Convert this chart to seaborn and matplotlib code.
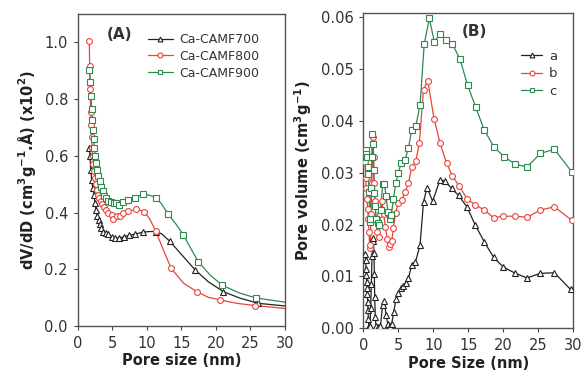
import numpy as np
import pandas as pd
import seaborn as sns
from matplotlib import pyplot as plt
from matplotlib.lines import Line2D

# ---- Panel A: dV/dD vs pore size (markers) ----
a700_x = [1.69, 1.78, 1.88, 2.03, 2.17, 2.36, 2.51, 2.65, 2.85, 3.04, 3.23, 3.43, 3.71, 4.1,
          4.44, 4.92, 5.4, 6.03, 6.7, 7.48, 8.3, 9.5, 11.3, 13.36, 16.98, 21.07, 26.1]
a700_y = [0.627, 0.598, 0.551, 0.515, 0.486, 0.462, 0.433, 0.41, 0.388, 0.374, 0.36, 0.345, 0.333, 0.327,
          0.324, 0.313, 0.311, 0.309, 0.315, 0.32, 0.324, 0.331, 0.333, 0.298, 0.198, 0.121, 0.08]
a800_x = [1.68, 1.73, 1.8, 1.87, 1.93, 2.0, 2.08, 2.17, 2.27, 2.38, 2.5, 2.63, 2.78, 2.95, 3.15, 3.35,
          3.55, 3.8, 4.1, 4.44, 4.92, 5.16, 5.64, 6.1, 6.6, 7.3, 8.5, 9.6, 11.29, 13.5, 17.3, 20.6, 25.66]
a800_y = [1.006, 0.915, 0.835, 0.755, 0.709, 0.668, 0.627, 0.6, 0.57, 0.545, 0.52, 0.5, 0.48, 0.462, 0.452, 0.44,
          0.43, 0.42, 0.41, 0.4, 0.392, 0.378, 0.388, 0.388, 0.398, 0.404, 0.412, 0.403, 0.335, 0.204, 0.12, 0.092, 0.072]
a900_x = [1.68, 1.83, 1.93, 2.02, 2.12, 2.2, 2.3, 2.42, 2.55, 2.7, 2.85, 3.0, 3.2, 3.4, 3.6, 3.85,
          4.1, 4.4, 4.8, 5.2, 5.6, 6.0, 6.5, 7.3, 8.3, 9.5, 11.29, 13.1, 15.3, 17.45, 20.84, 25.76]
a900_y = [0.904, 0.859, 0.812, 0.765, 0.727, 0.692, 0.659, 0.627, 0.6, 0.574, 0.55, 0.53, 0.51, 0.49, 0.475, 0.46,
          0.45, 0.442, 0.436, 0.434, 0.435, 0.428, 0.437, 0.443, 0.453, 0.465, 0.453, 0.394, 0.321, 0.227, 0.145, 0.099]
# extra readings of the curves between / after the markers
c700_x = [10.4, 12.15, 15.2, 18.9, 23.5, 30.0]
c700_y = [0.333, 0.325, 0.247, 0.156, 0.098, 0.0706]
c800_x = [10.36, 12.4, 15.3, 18.9, 23.0, 30.0]
c800_y = [0.38, 0.268, 0.151, 0.101, 0.08, 0.062]
c900_x = [10.4, 12.15, 14.2, 16.35, 19.15, 23.2, 30.0]
c900_y = [0.461, 0.43, 0.36, 0.274, 0.18, 0.118, 0.084]

# ---- Panel B: pore volume vs pore size ----
b_a_x = [0.29, 0.33, 0.38, 0.43, 0.48, 0.52, 0.57, 0.62, 0.67, 0.71, 0.81, 0.95, 1.05, 1.14, 1.24, 1.33,
         1.43, 1.52, 1.57, 1.62, 1.71, 1.8, 2.1, 2.45, 2.75, 3.0, 3.25, 3.5, 3.8, 4.05, 4.35, 4.65,
         5.0, 5.35, 5.7, 6.05, 6.45, 6.9, 7.45, 8.1, 8.6, 9.1, 9.9, 10.95, 11.6, 12.6, 13.6, 14.8,
         15.95, 17.3, 18.6, 20.0, 21.7, 23.4, 25.3, 27.3, 29.6]
b_a_y = [0.0144, 0.0131, 0.0115, 0.0103, 0.009, 0.0078, 0.0066, 0.005, 0.0035, 0.0018, 0.0004, 0.0005, 0.004,
         0.0085, 0.014, 0.0168, 0.0174, 0.0145, 0.0105, 0.006, 0.0022, 0.0005, 0.0002, 0.0005, 0.0045, 0.0052,
         0.0025, 0.0008, 0.0004, 0.0009, 0.0032, 0.0056, 0.0068, 0.0078, 0.0082, 0.0088, 0.0096, 0.0122, 0.0128,
         0.016, 0.0244, 0.0271, 0.0245, 0.0286, 0.0284, 0.027, 0.0256, 0.0234, 0.02, 0.0166, 0.0137, 0.0118,
         0.0106, 0.0097, 0.0106, 0.0107, 0.0075]
b_b_x = [0.24, 0.33, 0.43, 0.52, 0.62, 0.71, 0.81, 0.9, 1.0, 1.1, 1.2, 1.3, 1.38, 1.48, 1.57, 1.67, 1.8,
         2.0, 2.2, 2.4, 2.65, 2.9, 3.15, 3.4, 3.6, 3.8, 4.05, 4.3, 4.6, 5.0, 5.5, 5.95, 6.45, 6.9, 7.5,
         8.0, 8.6, 9.2, 10.1, 10.95, 11.9, 12.7, 13.7, 14.8, 15.95, 17.3, 18.6, 20.0, 21.7, 23.4, 25.3,
         27.3, 29.8]
b_b_y = [0.032, 0.029, 0.027, 0.025, 0.023, 0.021, 0.0185, 0.0155, 0.016, 0.022, 0.028, 0.033, 0.0368,
         0.033, 0.028, 0.0245, 0.021, 0.0185, 0.0175, 0.022, 0.0245, 0.022, 0.0195, 0.0173, 0.0157, 0.0163,
         0.0168, 0.0193, 0.0222, 0.0242, 0.0248, 0.0262, 0.028, 0.031, 0.0322, 0.0357, 0.046, 0.0477,
         0.0404, 0.0357, 0.0318, 0.0294, 0.0274, 0.025, 0.0238, 0.0228, 0.0213, 0.0216, 0.0216, 0.0214,
         0.0228, 0.0234, 0.0208]
b_c_x = [0.24, 0.33, 0.43, 0.52, 0.62, 0.71, 0.81, 0.9, 1.0, 1.1, 1.2, 1.3, 1.38, 1.48, 1.57, 1.7, 1.85,
         2.05, 2.3, 2.5, 2.75, 3.0, 3.25, 3.5, 3.75, 4.0, 4.3, 4.65, 5.0, 5.4, 5.95, 6.45, 6.9, 7.5, 8.1,
         8.7, 9.43, 10.14, 10.96, 11.8, 12.7, 13.8, 14.9, 16.06, 17.24, 18.67, 20.1, 21.7, 23.4, 25.3,
         27.3, 29.8]
b_c_y = [0.0342, 0.0343, 0.0335, 0.033, 0.031, 0.0298, 0.0262, 0.0205, 0.021, 0.027, 0.033, 0.0375, 0.0355,
         0.0305, 0.026, 0.0235, 0.021, 0.0202, 0.02, 0.0228, 0.0278, 0.0279, 0.0255, 0.0225, 0.021, 0.0218,
         0.025, 0.028, 0.03, 0.0318, 0.0325, 0.0347, 0.0382, 0.039, 0.043, 0.0548, 0.0597, 0.0552, 0.0568,
         0.0556, 0.0548, 0.0519, 0.0468, 0.0426, 0.0383, 0.0349, 0.0331, 0.0316, 0.0311, 0.0337, 0.0345,
         0.0301]

labels_a = ['Ca-CAMF700', 'Ca-CAMF800', 'Ca-CAMF900']
labels_b = ['a', 'b', 'c']
colors = ['#222222', '#e8453c', '#2e8b4f']
markers = ['^', 'o', 's']

sns.set_style('ticks')
plt.rcParams['font.family'] = ['DejaVu Sans']
plt.rcParams['mathtext.default'] = 'bf'
plt.rcParams['text.color'] = '#333333'
plt.rcParams['axes.labelcolor'] = '#222222'
plt.rcParams['xtick.color'] = '#444444'
plt.rcParams['ytick.color'] = '#444444'
plt.rcParams['xtick.labelcolor'] = '#333333'
plt.rcParams['ytick.labelcolor'] = '#333333'

fig = plt.figure(figsize=(5.82, 3.75), dpi=100)
axA = fig.add_axes([0.1335, 0.1307, 0.3562, 0.832])
axB = fig.add_axes([0.6243, 0.1245, 0.3608, 0.8415])

ms = 4.2
series_a = [(a700_x, a700_y, c700_x, c700_y), (a800_x, a800_y, c800_x, c800_y),
            (a900_x, a900_y, c900_x, c900_y)]
for (mx, my, cx, cy), col, mk in zip(series_a, colors, markers):
    df = pd.DataFrame({'x': mx + cx, 'y': my + cy}).sort_values('x')
    sns.lineplot(data=df, x='x', y='y', ax=axA, color=col, lw=0.9, estimator=None,
                 sort=True, legend=False)
    axA.plot(mx, my, ls='none', marker=mk, ms=ms, mfc='white', mec=col, mew=0.8, zorder=3)

series_b = [(b_a_x, b_a_y), (b_b_x, b_b_y), (b_c_x, b_c_y)]
for (bx, by), col, mk in zip(series_b, colors, markers):
    df = pd.DataFrame({'x': bx, 'y': by})
    sns.lineplot(data=df, x='x', y='y', ax=axB, color=col, lw=0.9, estimator=None,
                 sort=False, legend=False)
    axB.plot(bx, by, ls='none', marker=mk, ms=ms, mfc='white', mec=col, mew=0.8, zorder=3)

def handles(lbls, ms_leg):
    return [Line2D([], [], color=c, lw=0.9, marker=m, ms=ms_leg, mfc='white', mec=c, mew=0.8, label=l)
            for c, m, l in zip(colors, markers, lbls)]

axA.legend(handles=handles(labels_a, 3.5), loc='upper right', bbox_to_anchor=(0.93, 0.975),
           frameon=False, fontsize=9, labelspacing=0.3, handlelength=2.0, handletextpad=0.5)
axB.legend(handles=handles(labels_b, 3.5), loc='upper right', bbox_to_anchor=(0.98, 0.92),
           frameon=False, fontsize=9.5, labelspacing=0.35, handlelength=1.6, handletextpad=0.5)

axA.text(0.14, 0.933, '(A)', transform=axA.transAxes, fontsize=11, fontweight='bold', va='center')
axB.text(0.469, 0.939, '(B)', transform=axB.transAxes, fontsize=11, fontweight='bold', va='center')

axA.set_xlim(0, 30)
axA.set_ylim(0, 1.1)
axA.set_xticks([0, 5, 10, 15, 20, 25, 30])
axA.set_yticks([0.0, 0.2, 0.4, 0.6, 0.8, 1.0])
axA.set_yticklabels(['0.0', '0.2', '0.4', '0.6', '0.8', '1.0'])
axA.set_xlabel('Pore size (nm)', fontsize=10.5, fontweight='bold', labelpad=2)
axA.set_ylabel(r'dV/dD (cm$^{3}$g$^{-1}$.Å) (x10$^{2}$)', fontsize=10.5, fontweight='bold', labelpad=5)

axB.set_xlim(0, 30)
axB.set_ylim(0, 0.0608)
axB.set_xticks([0, 5, 10, 15, 20, 25, 30])
axB.set_yticks([0.0, 0.01, 0.02, 0.03, 0.04, 0.05, 0.06])
axB.set_yticklabels(['0.00', '0.01', '0.02', '0.03', '0.04', '0.05', '0.06'])
axB.set_xlabel('Pore Size (nm)', fontsize=10.5, fontweight='bold', labelpad=2)
axB.set_ylabel(r'Pore volume (cm$^{3}$g$^{-1}$)', fontsize=10.5, fontweight='bold', labelpad=5)

for ax in (axA, axB):
    ax.tick_params(labelsize=10.5, length=3, width=0.8, direction='out', pad=4)
    for s in ax.spines.values():
        s.set_visible(True)
        s.set_color('#555555')
        s.set_linewidth(1.0)

fig.savefig('out.png', dpi=100)
